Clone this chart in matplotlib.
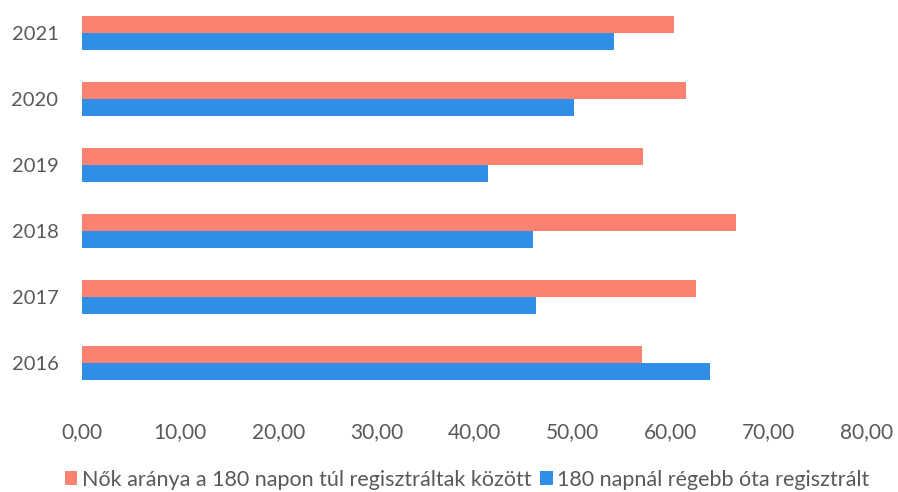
import numpy as np
import matplotlib.pyplot as plt

years = ['2016', '2017', '2018', '2019', '2020', '2021']
nok_arany = [57.1, 62.6, 66.7, 57.2, 61.6, 60.3]
regisztralt = [64.0, 46.3, 46.0, 41.4, 50.1, 54.2]
xticks = [0, 10, 20, 30, 40, 50, 60, 70, 80]

red = '#FB8271'
blue = '#2F8FE6'
gray = '#595959'

plt.rcParams['font.family'] = ['Lato', 'DejaVu Sans']

fig = plt.figure(figsize=(8.98, 4.92), dpi=100)
ax = fig.add_axes([0.0913, 0.195, 0.874, 0.805])

y = np.arange(len(years))
h = 0.26
ax.barh(y + h / 2, nok_arany, height=h, color=red,
        label='Nők aránya a 180 napon túl regisztráltak között')
ax.barh(y - h / 2, regisztralt, height=h, color=blue,
        label='180 napnál régebb óta regisztrált')

ax.set_xlim(0, 80)
ax.set_ylim(-0.5, 5.5)
ax.set_xticks(xticks)
ax.set_xticklabels([('%.2f' % v).replace('.', ',') for v in xticks])
ax.set_yticks(y)
ax.set_yticklabels(years)
ax.tick_params(length=0, colors=gray)
ax.tick_params(axis='x', pad=19, labelsize=15)
ax.tick_params(axis='y', pad=17, labelsize=14.5)
for s in ax.spines.values():
    s.set_visible(False)

fig.legend(loc='center', bbox_to_anchor=(0.52, 0.025), ncol=2,
           frameon=False, fontsize=15.5, labelcolor=gray,
           handlelength=0.6, handleheight=0.6, handletextpad=0.2,
           columnspacing=0.4)

fig.savefig('out.png', dpi=100)
